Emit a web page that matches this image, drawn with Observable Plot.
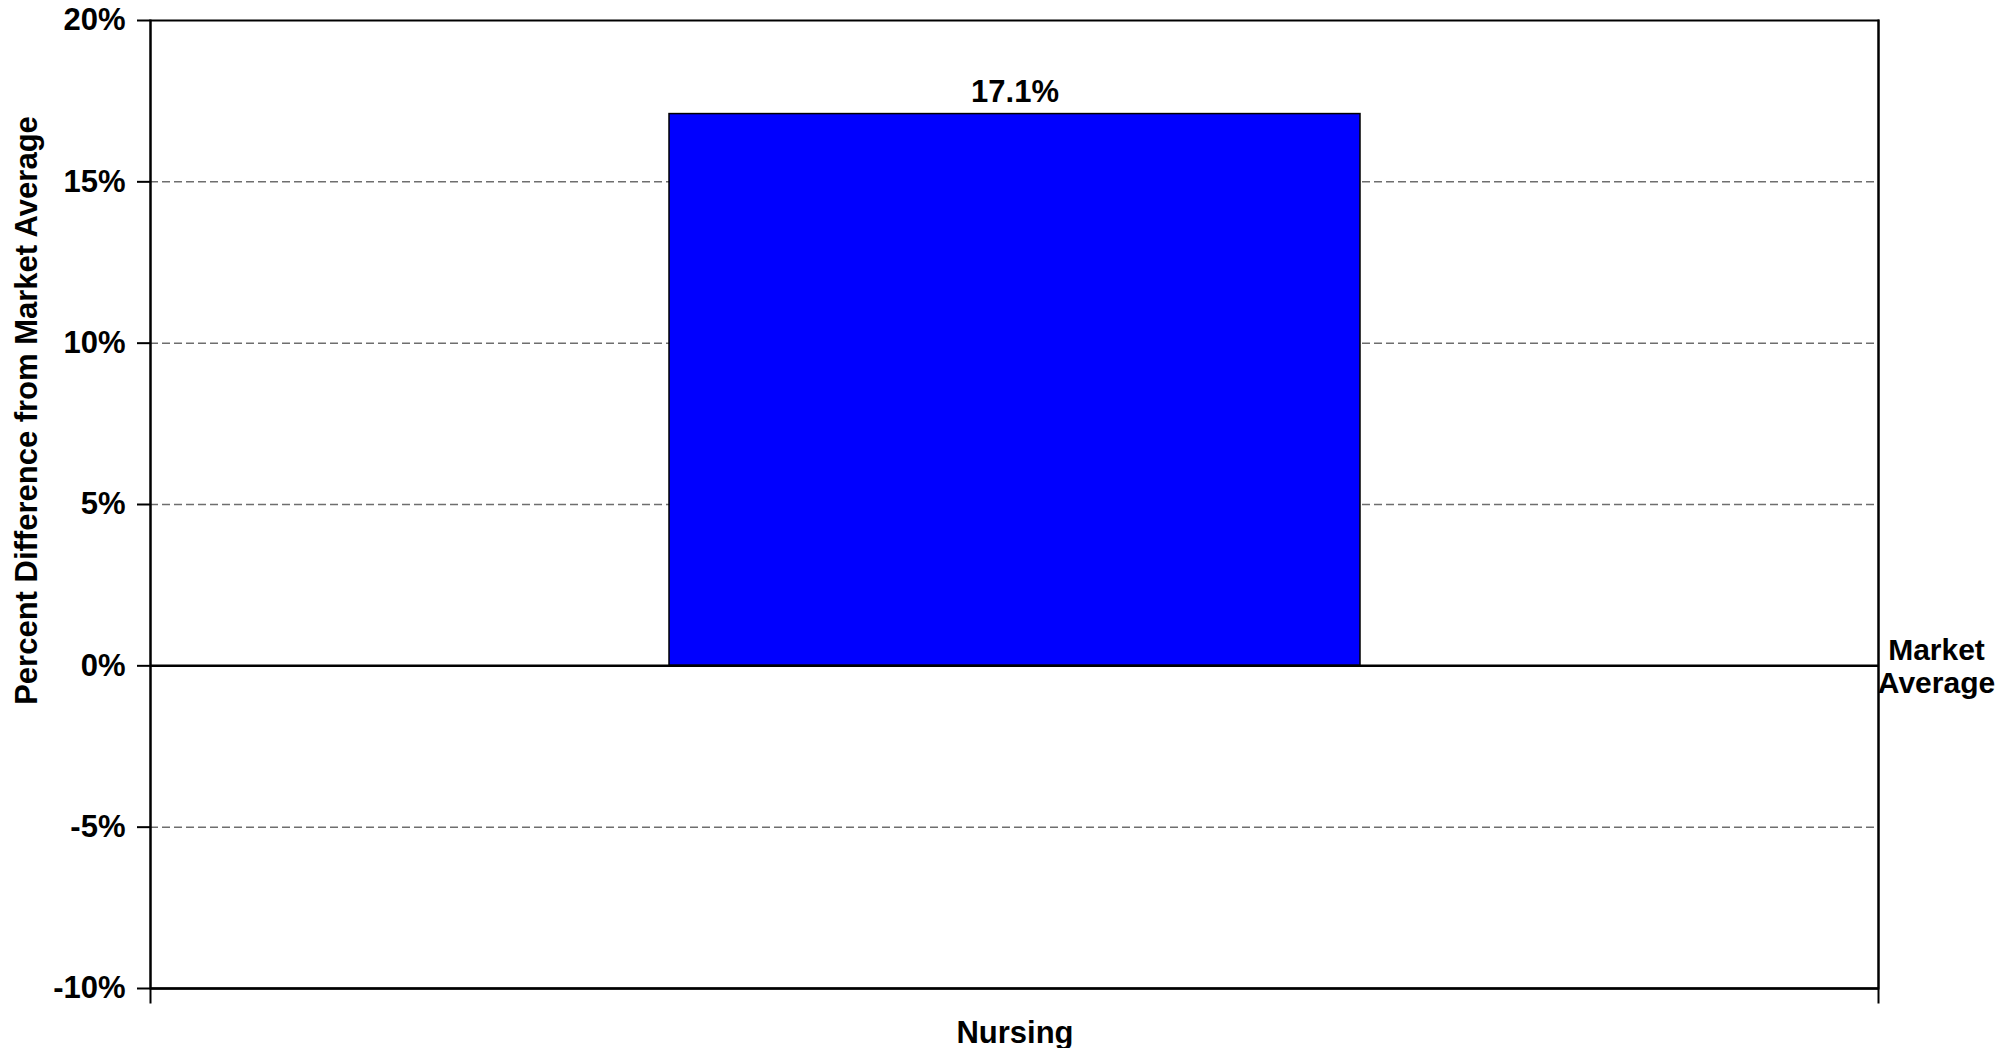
<!DOCTYPE html>
<html>
<head>
<meta charset="utf-8">
<script src="https://cdn.jsdelivr.net/npm/d3@7"></script>
<script src="https://cdn.jsdelivr.net/npm/@observablehq/plot@0.6"></script>
<style>
  html, body { margin: 0; padding: 0; background: white; }
</style>
</head>
<body>
<div id="chart"></div>
<script>
const categories = ["Nursing"];
const values = [17.1];
const yTicks = [-10, -5, 0, 5, 10, 15, 20];
const gridTicks = [-5, 5, 10, 15];
const yTitle = ["Percent Difference from Market Average"];
const refLines = ["Market", "Average"];

const data = categories.map((c, i) => ({category: c, value: values[i]}));
const FONT = "Arial, 'Liberation Sans', sans-serif";
const FS = 31;

const chart = Plot.plot({
  width: 2000,
  height: 1048,
  marginTop: 20,
  marginBottom: 60,
  marginLeft: 150,
  marginRight: 122,
  style: {fontFamily: FONT, fontWeight: "bold", fontSize: FS + "px", color: "black", background: "white", overflow: "visible"},
  x: {domain: categories, paddingInner: 0, paddingOuter: 0.75, label: null},
  y: {domain: [-10, 20], label: null},
  marks: [
    Plot.ruleY(gridTicks, {stroke: "#6e6e6e", strokeWidth: 1.5, strokeDasharray: "8,4"}),
    Plot.barY(data, {x: "category", y: "value", fill: "#0000FF", stroke: "black", strokeWidth: 1.5}),
    Plot.ruleY([0], {stroke: "black", strokeWidth: 2.5}),
    Plot.ruleY([-10], {stroke: "black", strokeWidth: 2.5}),
    Plot.frame({stroke: "black", strokeWidth: 2}),
    Plot.frame({anchor: "left", stroke: "black", strokeWidth: 2, insetBottom: -14}),
    Plot.frame({anchor: "right", stroke: "black", strokeWidth: 2, insetBottom: -14}),
    Plot.axisY({ticks: yTicks, tickSize: 13, tickPadding: 12, tickFormat: d => d + "%", label: null, fontSize: FS, fontWeight: "bold", stroke: "black", strokeWidth: 2}),
    Plot.axisX({tickSize: 0, tickPadding: 32, label: null, fontSize: FS, fontWeight: "bold"}),
    Plot.text(data, {x: "category", y: "value", text: d => d.value.toFixed(1) + "%", dy: -12, lineAnchor: "bottom", fontSize: FS, fontWeight: "bold", fill: "black"}),
    Plot.text([0], {y: d => d, text: () => refLines.join("\n"), frameAnchor: "right", dx: 58, textAnchor: "middle", lineAnchor: "middle", lineHeight: 1.1, fontSize: FS - 1, fontWeight: "bold", fill: "black"}),
    Plot.text(yTitle, {text: d => d, frameAnchor: "top-left", rotate: -90, dx: -123, dy: 390, textAnchor: "middle", lineAnchor: "middle", fontSize: FS, fontWeight: "bold", fill: "black"})
  ]
});
document.getElementById("chart").appendChild(chart);
</script>
</body>
</html>
